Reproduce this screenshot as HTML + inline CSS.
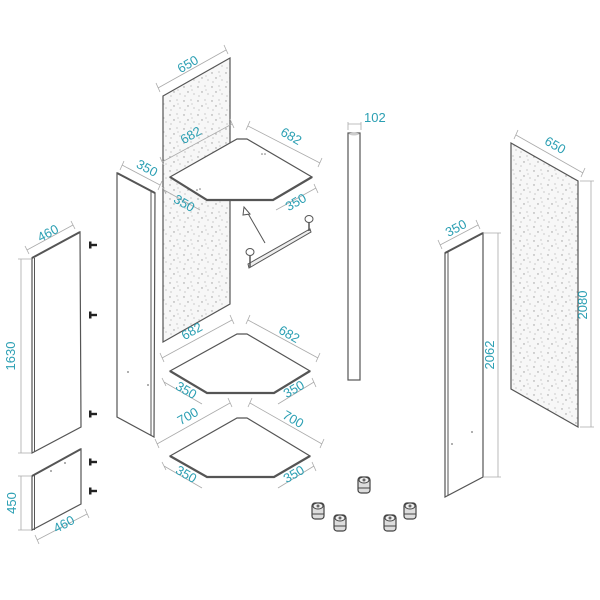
<!DOCTYPE html>
<html><head><meta charset="utf-8"><style>
html,body{margin:0;padding:0;background:#fff;width:600px;height:600px;overflow:hidden}
svg{display:block}
text{font-family:"Liberation Sans",sans-serif;font-size:13px;fill:#2b9fb3}
.p{fill:#fff;stroke:#555;stroke-width:1.2}
.d{stroke:#aaa;stroke-width:0.8;fill:none}
.e{fill:#777}
</style></head><body>
<svg width="600" height="600" viewBox="0 0 600 600" xmlns="http://www.w3.org/2000/svg">
<defs>
<pattern id="sp" width="14" height="14" patternUnits="userSpaceOnUse">
<rect width="14" height="14" fill="#f7f7f7"/>
<circle cx="2" cy="3" r="0.7" fill="#999"/><circle cx="9" cy="2" r="0.6" fill="#aaa"/>
<circle cx="6" cy="8" r="0.7" fill="#999"/><circle cx="12" cy="10" r="0.6" fill="#aaa"/>
<circle cx="3" cy="12" r="0.6" fill="#aaa"/><circle cx="10" cy="6" r="0.5" fill="#999"/>
</pattern>
<g id="foot"><rect x="-6" y="-8" width="12" height="16" rx="3" fill="#ddd" stroke="#444" stroke-width="1.2"/><ellipse cx="0" cy="-5" rx="5" ry="3" fill="#eee" stroke="#444"/><circle cx="0" cy="-5" r="1.5" fill="#666"/><line x1="-6" y1="3" x2="6" y2="3" stroke="#444"/></g>
<g id="screw"><rect x="0" y="-1.2" width="8" height="2.4" fill="#222"/><rect x="0" y="-3.5" width="2.5" height="7" fill="#222"/></g>
</defs>

<polygon class="p" points="32,258 80,232 81,427 32,453"/>
<line x1="34.5" y1="258" x2="34.5" y2="452" stroke="#555"/>
<line x1="32" y1="258" x2="80" y2="232" stroke="#555" stroke-width="2"/>
<path class="d" d="M27,250 L73,225 M25,246 L29,254 M71,221 L75,229"/>
<text transform="translate(50,237) rotate(-28)" text-anchor="middle">460</text>
<path class="d" d="M21,259 L21,453 M18,259 L31,259 M18,453 L31,453"/>
<text transform="translate(15,356) rotate(-90)" text-anchor="middle">1630</text>

<polygon class="p" points="32,476 81,449 81,504 32,530"/>
<line x1="34.5" y1="475" x2="34.5" y2="530" stroke="#555"/>
<line x1="32" y1="476" x2="81" y2="449" stroke="#555" stroke-width="2"/>
<circle cx="51" cy="471" r="0.9" class="e"/><circle cx="65" cy="463" r="0.9" class="e"/>
<path class="d" d="M21,476 L21,530 M18,476 L31,476 M18,530 L31,530"/>
<text transform="translate(16,503) rotate(-90)" text-anchor="middle">450</text>
<path class="d" d="M37,540 L87,514 M35,535 L39,544 M85,509 L89,518"/>
<text transform="translate(66,528) rotate(-28)" text-anchor="middle">460</text>

<use href="#screw" x="89" y="245"/><use href="#screw" x="89" y="315"/><use href="#screw" x="89" y="414"/><use href="#screw" x="89" y="462"/><use href="#screw" x="89" y="491"/>

<polygon class="p" points="117,173 155,193 154,437 117,417"/>
<line x1="151" y1="191" x2="151" y2="436" stroke="#555"/>
<line x1="117" y1="173" x2="155" y2="193" stroke="#555" stroke-width="2"/>
<circle cx="128" cy="372" r="0.9" class="e"/><circle cx="148" cy="385" r="0.9" class="e"/>
<path class="d" d="M122,165 L160,185 M120,170 L124,161 M158,190 L162,181"/>
<text transform="translate(145,172) rotate(28)" text-anchor="middle">350</text>

<polygon points="163,96 230,58 230,304 163,342" fill="url(#sp)" stroke="#555" stroke-width="1.2"/>
<path class="d" d="M158,88 L226,50 M156,83 L160,92 M224,45 L228,54"/>
<text transform="translate(190,68) rotate(-30)" text-anchor="middle">650</text>

<polygon class="p" points="170,177 237,139 247,139 312,177 273,200 207,200"/>
<polyline points="170,177 207,200 273,200 312,177" fill="none" stroke="#555" stroke-width="2.2"/>
<circle cx="197" cy="190" r="0.8" class="e"/><circle cx="200" cy="189" r="0.8" class="e"/><circle cx="262" cy="154" r="0.8" class="e"/><circle cx="265" cy="154" r="0.8" class="e"/>
<path class="d" d="M162,162 L232,124 M160,157 L164,166 M230,119 L234,128 M248,126 L320,163 M250,121 L246,130 M322,158 L318,167 M164,190 L200,210 M162,186 L166,194 M276,210 L316,188 M314,184 L318,193"/>
<text transform="translate(193,139) rotate(-30)" text-anchor="middle">682</text>
<text transform="translate(289,140) rotate(30)" text-anchor="middle">682</text>
<text transform="translate(182,207) rotate(30)" text-anchor="middle">350</text>
<text transform="translate(298,206) rotate(-30)" text-anchor="middle">350</text>

<polygon class="p" points="170,371 237,334 247,334 310,371 274,393 207,393"/>
<polyline points="170,371 207,393 274,393 310,371" fill="none" stroke="#555" stroke-width="2.2"/>
<path class="d" d="M162,358 L232,320 M160,353 L164,362 M230,315 L234,324 M248,320 L318,358 M250,315 L246,324 M320,353 L316,362 M164,382 L202,404 M162,378 L166,386 M278,404 L314,382 M312,378 L316,387"/>
<text transform="translate(194,335) rotate(-30)" text-anchor="middle">682</text>
<text transform="translate(287,338) rotate(30)" text-anchor="middle">682</text>
<text transform="translate(184,394) rotate(30)" text-anchor="middle">350</text>
<text transform="translate(296,393) rotate(-30)" text-anchor="middle">350</text>

<polygon class="p" points="170,456 237,418 247,418 310,456 274,477 207,477"/>
<polyline points="170,456 207,477 274,477 310,456" fill="none" stroke="#555" stroke-width="2.2"/>
<path class="d" d="M157,444 L230,403 M155,439 L159,448 M228,398 L232,407 M250,403 L322,444 M252,398 L248,407 M324,439 L320,448 M164,466 L202,488 M162,462 L166,470 M278,488 L314,466 M312,462 L316,471"/>
<text transform="translate(190,420) rotate(-30)" text-anchor="middle">700</text>
<text transform="translate(291,423) rotate(30)" text-anchor="middle">700</text>
<text transform="translate(184,478) rotate(30)" text-anchor="middle">350</text>
<text transform="translate(296,478) rotate(-30)" text-anchor="middle">350</text>

<line x1="265" y1="243" x2="246" y2="210" stroke="#555"/>
<polygon points="244,207 250,214 243,215" fill="#fff" stroke="#555"/>
<polygon points="248,264 310,229 311,232 249,268" fill="#eee" stroke="#555"/>
<line x1="250" y1="256" x2="250" y2="267" stroke="#555" stroke-width="1.5"/>
<line x1="309" y1="222" x2="309" y2="231" stroke="#555" stroke-width="1.5"/>
<ellipse cx="250" cy="252" rx="4" ry="3.5" fill="#fff" stroke="#555"/>
<ellipse cx="309" cy="219" rx="4" ry="3.5" fill="#fff" stroke="#555"/>

<rect class="p" x="348" y="133" width="12" height="247"/>
<ellipse cx="354" cy="134" rx="5" ry="1.5" fill="#ccc"/>
<path class="d" d="M348,130 L348,122 M361,130 L361,122 M348,124 L361,124"/>
<text x="364" y="122">102</text>

<polygon class="p" points="445,253 483,233 483,477 445,497"/>
<line x1="448" y1="252" x2="448" y2="496" stroke="#555"/>
<line x1="445" y1="253" x2="483" y2="233" stroke="#555" stroke-width="2"/>
<circle cx="452" cy="444" r="0.9" class="e"/><circle cx="472" cy="432" r="0.9" class="e"/>
<path class="d" d="M440,245 L478,225 M438,240 L442,249 M476,220 L480,229"/>
<text transform="translate(458,232) rotate(-28)" text-anchor="middle">350</text>
<path class="d" d="M498,233 L498,477 M484,233 L501,233 M484,477 L501,477"/>
<text transform="translate(494,355) rotate(-90)" text-anchor="middle">2062</text>

<polygon points="511,143 578,181 578,427 511,389" fill="url(#sp)" stroke="#555" stroke-width="1.2"/>
<path class="d" d="M516,135 L583,173 M518,130 L514,139 M585,168 L581,177"/>
<text transform="translate(553,149) rotate(30)" text-anchor="middle">650</text>
<path class="d" d="M591,181 L591,427 M580,181 L594,181 M580,427 L594,427"/>
<text transform="translate(587,305) rotate(-90)" text-anchor="middle">2080</text>

<use href="#foot" x="364" y="485"/><use href="#foot" x="318" y="511"/><use href="#foot" x="340" y="523"/><use href="#foot" x="390" y="523"/><use href="#foot" x="410" y="511"/>
</svg>
</body></html>
